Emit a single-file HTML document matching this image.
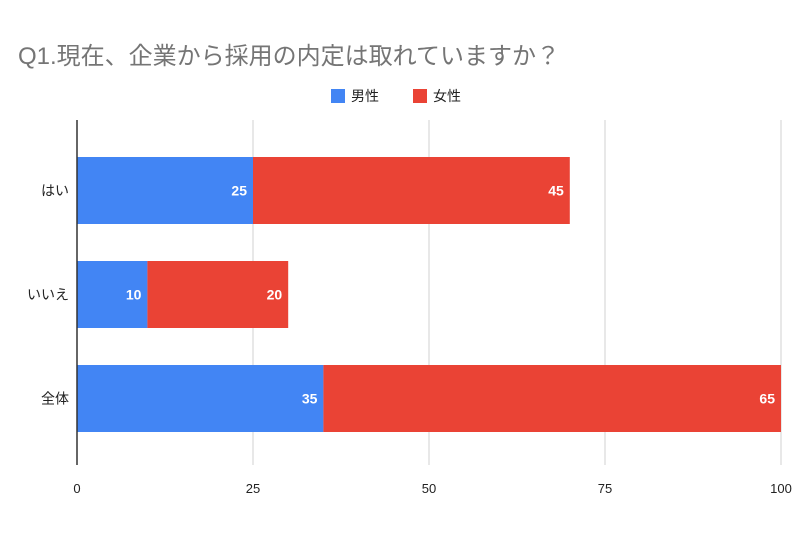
<!DOCTYPE html>
<html><head><meta charset="utf-8"><style>
body{margin:0;background:#fff;width:800px;height:533px;overflow:hidden}
text{font-family:"Liberation Sans","Noto Sans CJK JP",sans-serif}
</style></head><body>
<svg id="chart" width="800" height="533">
<text x="18" y="64" font-size="24" fill="#757575">Q1.現在、企業から採用の内定は取れていますか？</text>
<g>
<rect x="331" y="89" width="14" height="14" fill="#4285f4"/>
<text x="351" y="101" font-size="14" fill="#222">男性</text>
<rect x="413" y="89" width="14" height="14" fill="#ea4335"/>
<text x="433" y="101" font-size="14" fill="#222">女性</text>
</g>
<g id="grid"></g><g id="bars"></g><g id="labels"></g>
</svg>
<script>
const categories=["はい","いいえ","全体"];
const maleValues=[25,10,35];
const femaleValues=[45,20,65];
const tickLabels=[0,25,50,75,100];
const ns="http://www.w3.org/2000/svg";
const x0=77,x1=781,maxV=100;
const xs=v=>x0+(x1-x0)*v/maxV;
const bandTop=120,bandH=104;
const ys=i=>bandTop+i*bandH+37;
const barH=67;
function mk(tag,attrs,parent){const e=document.createElementNS(ns,tag);for(const k in attrs)e.setAttribute(k,attrs[k]);parent.appendChild(e);return e;}
const grid=document.getElementById('grid'),bars=document.getElementById('bars'),labels=document.getElementById('labels');
tickLabels.forEach(t=>{
 if(t>0){const l=mk('line',{x1:xs(t),x2:xs(t),y1:120,y2:465,stroke:'#d0d0d0','stroke-width':1},grid);
 
 }
 const tx=mk('text',{x:xs(t),y:493,'font-size':13,fill:'#222','text-anchor':'middle'},labels);
 tx.textContent=t;
 
 
});
categories.forEach((c,i)=>{
 const y=ys(i);
 const m=mk('rect',{x:xs(0),y:y,width:xs(maleValues[i])-xs(0),height:barH,fill:'#4285f4'},bars);
 
 
 const f=mk('rect',{x:xs(maleValues[i]),y:y,width:xs(maleValues[i]+femaleValues[i])-xs(maleValues[i]),height:barH,fill:'#ea4335'},bars);
 
 
 const ml=mk('text',{x:xs(maleValues[i])-6,y:y+barH/2+5,'font-size':14,'font-weight':'bold',fill:'#fff','text-anchor':'end'},labels);
 ml.textContent=maleValues[i];
 
 
 const fl=mk('text',{x:xs(maleValues[i]+femaleValues[i])-6,y:y+barH/2+5,'font-size':14,'font-weight':'bold',fill:'#fff','text-anchor':'end'},labels);
 fl.textContent=femaleValues[i];
 
 
 const cl=mk('text',{x:69,y:y+barH/2+5,'font-size':14,fill:'#222','text-anchor':'end'},labels);
 cl.textContent=c;
 
 
});
const ax=mk('line',{x1:x0,x2:x0,y1:120,y2:465,stroke:'#333','stroke-width':1.5},labels);


</script>
</body></html>
